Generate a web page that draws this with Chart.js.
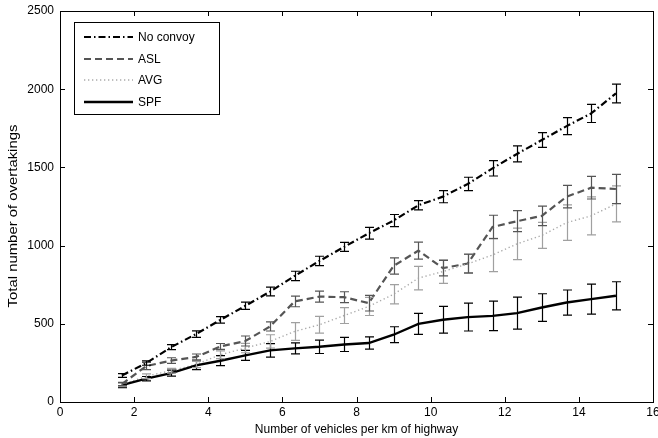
<!DOCTYPE html>
<html>
<head>
<meta charset="utf-8">
<script src="https://cdn.jsdelivr.net/npm/chart.js@4/dist/chart.umd.min.js"></script>
<style>
  html, body { margin: 0; padding: 0; background: #fff; }
  #wrap { width: 658px; height: 438px; position: relative; }
</style>
</head>
<body>
<div id="wrap"><canvas id="chart"></canvas></div>
<script>
  // vehicles per km (x) and mean overtakings (y) with +/- error
  const density = [1.67, 2.33, 3, 3.67, 4.33, 5, 5.67, 6.33, 7, 7.67, 8.33, 9, 9.67, 10.33, 11, 11.67, 12.33, 13, 13.67, 14.33, 15];

  const noConvoy = [170, 249, 351, 434, 525, 615, 706, 806, 902, 992, 1079, 1160, 1258, 1313, 1394, 1494, 1586, 1675, 1764, 1845, 1973];
  const noConvoyErr = [12, 14, 16, 21, 21, 23, 28, 30, 30, 29, 37, 39, 30, 39, 43, 49, 51, 47, 54, 58, 60];

  const asl = [115, 230, 265, 288, 355, 390, 483, 643, 674, 670, 632, 870, 968, 856, 885, 1119, 1156, 1190, 1313, 1370, 1362];
  const aslErr = [10, 23, 18, 19, 19, 32, 29, 34, 35, 35, 50, 52, 54, 50, 60, 75, 67, 62, 72, 72, 94];

  const avg = [110, 165, 200, 240, 302, 345, 387, 451, 494, 553, 611, 689, 792, 834, 883, 940, 1011, 1065, 1147, 1190, 1267];
  const avgErr = [12, 15, 15, 20, 25, 30, 43, 57, 53, 51, 58, 61, 75, 75, 60, 106, 101, 83, 114, 122, 115];

  const spf = [108, 149, 185, 234, 264, 298, 330, 343, 353, 368, 377, 430, 500, 526, 543, 551, 568, 604, 636, 658, 679];
  const spfErr = [16, 14, 19, 27, 32, 32, 43, 35, 43, 45, 39, 51, 67, 86, 89, 94, 102, 88, 80, 96, 90];

  const xTicks = [0, 2, 4, 6, 8, 10, 12, 14, 16];
  const yTicks = [0, 500, 1000, 1500, 2000, 2500];
  const yTitle = "Total number of overtakings";

  const FONT = "'Liberation Sans', Arial, sans-serif";

  function series(label, values, errs, color, errColor, dash, width, order) {
    return {
      label,
      data: values.map((v, i) => ({ x: density[i], y: v })),
      errs,
      errColor,
      borderColor: color,
      borderDash: dash,
      borderWidth: width,
      pointRadius: 0,
      tension: 0,
      fill: false,
      order,
    };
  }

  const datasets = [
    series("No convoy", noConvoy, noConvoyErr, "#000", "#000", [7, 3, 1.5, 3], 2.2, 3),
    series("ASL", asl, aslErr, "#555", "#555", [7, 4], 2.2, 2),
    series("AVG", avg, avgErr, "#aaa", "#a0a0a0", [1.3, 2.7], 1.4, 1),
    series("SPF", spf, spfErr, "#000", "#000", [], 2.4, 0),
  ];

  const errorBars = {
    id: "errorBars",
    afterDatasetsDraw(chart) {
      const { ctx, chartArea } = chart;
      const sx = chart.scales.x;
      const sy = chart.scales.y;
      ctx.save();
      ctx.beginPath();
      ctx.rect(chartArea.left, chartArea.top, chartArea.right - chartArea.left, chartArea.bottom - chartArea.top);
      ctx.clip();
      ctx.setLineDash([]);
      ctx.lineWidth = 1.2;
      chart.data.datasets.slice().reverse().forEach((ds) => {
        ctx.strokeStyle = ds.errColor;
        ds.data.forEach((p, i) => {
          const px = Math.round(sx.getPixelForValue(p.x)) + 0.5;
          const top = sy.getPixelForValue(p.y + ds.errs[i]);
          const bot = sy.getPixelForValue(p.y - ds.errs[i]);
          ctx.beginPath();
          ctx.moveTo(px, top); ctx.lineTo(px, bot);
          ctx.moveTo(px - 4.5, top); ctx.lineTo(px + 4.5, top);
          ctx.moveTo(px - 4.5, bot); ctx.lineTo(px + 4.5, bot);
          ctx.stroke();
        });
      });
      ctx.restore();
    },
  };

  const frame = {
    id: "frame",
    afterDraw(chart) {
      const { ctx, chartArea: a } = chart;
      const sx = chart.scales.x;
      const sy = chart.scales.y;
      ctx.save();
      ctx.strokeStyle = "#000";
      ctx.lineWidth = 1;
      ctx.setLineDash([]);
      ctx.strokeRect(Math.round(a.left) + 0.5, Math.round(a.top) + 0.5, Math.round(a.right - a.left), Math.round(a.bottom - a.top));
      ctx.beginPath();
      xTicks.forEach((t) => {
        const px = Math.round(sx.getPixelForValue(t)) + 0.5;
        ctx.moveTo(px, a.bottom); ctx.lineTo(px, a.bottom - 5);
        ctx.moveTo(px, a.top); ctx.lineTo(px, a.top + 5);
      });
      yTicks.forEach((t) => {
        const py = Math.round(sy.getPixelForValue(t)) + 0.5;
        ctx.moveTo(a.left, py); ctx.lineTo(a.left + 5, py);
        ctx.moveTo(a.right, py); ctx.lineTo(a.right - 5, py);
      });
      ctx.stroke();

      // y title, stretched along its length like the original figure
      ctx.save();
      ctx.translate(14, 216);
      ctx.rotate(-Math.PI / 2);
      ctx.scale(1.24, 1);
      ctx.font = "12px " + FONT;
      ctx.fillStyle = "#000";
      ctx.textAlign = "center";
      ctx.textBaseline = "middle";
      ctx.fillText(yTitle, 0, 0);
      ctx.restore();

      // legend box, matlab style
      const bx = 74.5, by = 22.5, bw = 145, bh = 92;
      ctx.fillStyle = "#fff";
      ctx.fillRect(bx, by, bw, bh);
      ctx.strokeRect(bx, by, bw, bh);
      const rows = [37, 59, 80, 102];
      ctx.font = "12px " + FONT;
      ctx.textBaseline = "middle";
      ctx.textAlign = "left";
      chart.data.datasets.forEach((ds, i) => {
        ctx.beginPath();
        ctx.strokeStyle = ds.borderColor;
        ctx.lineWidth = ds.borderWidth;
        ctx.setLineDash(ds.borderDash);
        ctx.moveTo(84, rows[i]); ctx.lineTo(133, rows[i]);
        ctx.stroke();
        ctx.fillStyle = "#000";
        ctx.fillText(ds.label, 138, rows[i] + 0.5);
      });
      ctx.restore();
    },
  };

  new Chart(document.getElementById("chart"), {
    type: "line",
    data: { datasets },
    options: {
      responsive: true,
      maintainAspectRatio: false,
      animation: false,
      layout: { padding: { top: 11, right: 5, left: 0, bottom: 0 } },
      plugins: { legend: { display: false }, tooltip: { enabled: false } },
      scales: {
        x: {
          type: "linear",
          min: 0,
          max: 16,
          afterBuildTicks: (s) => { s.ticks = xTicks.map((v) => ({ value: v })); },
          afterFit: (s) => { s.height = 36; s.paddingLeft = 0; s.paddingRight = 0; },
          grid: { display: false, drawTicks: false },
          border: { display: false },
          ticks: { color: "#000", font: { family: FONT, size: 12 }, padding: 3, maxRotation: 0, autoSkip: false, callback: (v) => String(v) },
          title: { display: true, text: "Number of vehicles per km of highway", color: "#000", font: { family: FONT, size: 12 }, padding: { top: 0, bottom: 1 } },
        },
        y: {
          min: 0,
          max: 2500,
          afterBuildTicks: (s) => { s.ticks = yTicks.map((v) => ({ value: v })); },
          afterFit: (s) => { s.width = 60; s.paddingTop = 0; s.paddingBottom = 0; },
          grid: { display: false, drawTicks: false },
          border: { display: false },
          ticks: { color: "#000", font: { family: FONT, size: 12 }, padding: 6, autoSkip: false, callback: (v) => String(v) },
          title: { display: false },
        },
      },
    },
    plugins: [errorBars, frame],
  });
</script>
</body>
</html>
